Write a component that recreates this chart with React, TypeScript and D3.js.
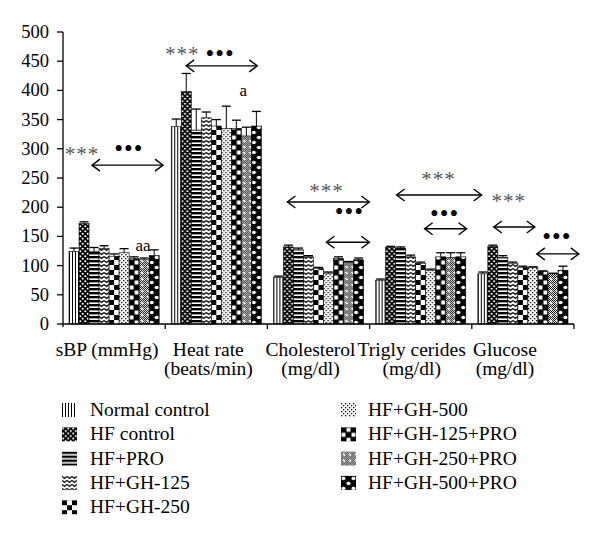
import React from "react";
import * as d3 from "d3";

const categoryLine1 = ["sBP (mmHg)", "Heat rate", "Cholesterol", "Trigly cerides", "Glucose"];
const categoryLine2 = ["", "(beats/min)", "(mg/dl)", "(mg/dl)", "(mg/dl)"];
const seriesNames = [
  "Normal control",
  "HF control",
  "HF+PRO",
  "HF+GH-125",
  "HF+GH-250",
  "HF+GH-500",
  "HF+GH-125+PRO",
  "HF+GH-250+PRO",
  "HF+GH-500+PRO",
];
const normalControl = [124, 338, 80, 75, 86];
const hfControl = [172, 398, 132, 131, 133];
const hfPro = [124, 332, 127, 130, 114];
const hfGh125 = [129, 353, 115, 115, 104];
const hfGh250 = [116, 339, 95, 104, 97];
const hfGh500 = [122, 335, 87, 92, 97];
const hfGh125Pro = [112, 335, 112, 115, 90];
const hfGh250Pro = [110, 322, 105, 114, 86];
const hfGh500Pro = [117, 339, 110, 115, 92];
const seriesValues = [normalControl, hfControl, hfPro, hfGh125, hfGh250, hfGh500, hfGh125Pro, hfGh250Pro, hfGh500Pro];

const normalControlErr = [6, 13, 2, 2, 3];
const hfControlErr = [3, 31, 3, 2, 2];
const hfProErr = [7, 36, 3, 2, 3];
const hfGh125Err = [5, 10, 2, 3, 2];
const hfGh250Err = [4, 11, 2, 2, 2];
const hfGh500Err = [7, 38, 2, 2, 1];
const hfGh125ProErr = [3, 14, 3, 7, 1];
const hfGh250ProErr = [3, 15, 2, 8, 1];
const hfGh500ProErr = [10, 25, 3, 7, 7];
const seriesErrors = [normalControlErr, hfControlErr, hfProErr, hfGh125Err, hfGh250Err, hfGh500Err, hfGh125ProErr, hfGh250ProErr, hfGh500ProErr];

const yTicks = [0, 50, 100, 150, 200, 250, 300, 350, 400, 450, 500];

// significance annotations: group index, offsets within group (px), y in data units
const arrows = [
  { g: 0, x1: 29, x2: 100, v: 272 },
  { g: 1, x1: 21, x2: 92, v: 442 },
  { g: 2, x1: 20, x2: 102, v: 209 },
  { g: 2, x1: 59, x2: 102, v: 140 },
  { g: 3, x1: 27, x2: 112, v: 221 },
  { g: 3, x1: 55, x2: 97, v: 163 },
  { g: 4, x1: 22, x2: 63, v: 166 },
  { g: 4, x1: 65, x2: 107, v: 120 },
];
const starLabels = [
  { g: 0, dx: 19, v: 298 },
  { g: 1, dx: 17, v: 469 },
  { g: 2, dx: 59, v: 235 },
  { g: 3, dx: 69, v: 255 },
  { g: 4, dx: 37, v: 217 },
];
const dotLabels = [
  { g: 0, dx: 66, v: 298 },
  { g: 1, dx: 55, v: 461 },
  { g: 2, dx: 82, v: 190 },
  { g: 3, dx: 75, v: 187 },
  { g: 4, dx: 85, v: 147 },
];
const letterLabels = [
  { g: 0, dx: 80, v: 132, text: "aa" },
  { g: 1, dx: 78, v: 397, text: "a" },
];

const W = 600;
const H = 539;
const FONT = "'Liberation Serif', 'DejaVu Serif', serif";

function Patterns() {
  const checker: JSX.Element[] = [];
  for (let i = 0; i < 6; i++)
    for (let j = 0; j < 6; j++)
      if ((i + j) % 2 === 0) checker.push(<rect key={i + "-" + j} x={i} y={j} width={1} height={1} fill="#000" />);
  return (
    <defs>
      <pattern id="p0" patternUnits="userSpaceOnUse" width={3} height={10}>
        <rect width={3} height={10} fill="#fff" />
        <rect x={0} width={1} height={10} fill="#000" />
      </pattern>
      <pattern id="p1" patternUnits="userSpaceOnUse" width={5} height={5}>
        <rect width={5} height={5} fill="#000" />
        <circle cx={1.25} cy={1.25} r={1.1} fill="#fff" />
        <circle cx={3.75} cy={3.75} r={1.1} fill="#fff" />
      </pattern>
      <pattern id="p2" patternUnits="userSpaceOnUse" width={10} height={4}>
        <rect width={10} height={4} fill="#fff" />
        <rect y={0} width={10} height={2.4} fill="#000" />
      </pattern>
      <pattern id="p3" patternUnits="userSpaceOnUse" width={5} height={4}>
        <rect width={5} height={4} fill="#fff" />
        <path d="M0,0.5 L2.5,2.5 L5,0.5 M0,4.5 L2.5,6.5 L5,4.5" stroke="#000" strokeWidth={1.3} fill="none" />
      </pattern>
      <pattern id="p4" patternUnits="userSpaceOnUse" width={10} height={10}>
        <rect width={10} height={10} fill="#fff" />
        <rect x={0} y={0} width={5} height={5} fill="#000" />
        <rect x={5} y={5} width={5} height={5} fill="#000" />
      </pattern>
      <pattern id="p5" patternUnits="userSpaceOnUse" width={4} height={4}>
        <rect width={4} height={4} fill="#fff" />
        <rect x={0} y={0} width={1.3} height={1.3} fill="#000" />
        <rect x={2} y={2} width={1.3} height={1.3} fill="#000" />
      </pattern>
      <pattern id="p6" patternUnits="userSpaceOnUse" width={10} height={10}>
        <rect width={10} height={10} fill="#000" />
        <rect x={5.5} y={0.5} width={4} height={4} fill="#fff" />
        <rect x={0.5} y={5.5} width={4} height={4} fill="#fff" />
      </pattern>
      <pattern id="p7" patternUnits="userSpaceOnUse" width={6} height={6}>
        <rect width={6} height={6} fill="#fff" />
        {checker}
        <path d="M3,1.5 L4.5,3 L3,4.5 L1.5,3 Z" fill="#fff" />
      </pattern>
      <pattern id="p8" patternUnits="userSpaceOnUse" width={10} height={10}>
        <rect width={10} height={10} fill="#000" />
        <ellipse cx={2.5} cy={2.5} rx={2.1} ry={1.8} fill="#fff" />
        <ellipse cx={7.5} cy={7.5} rx={2.1} ry={1.8} fill="#fff" />
      </pattern>
    </defs>
  );
}

function Arrow({ x1, x2, y }: { x1: number; x2: number; y: number }) {
  const hl = 8;
  const hh = 6;
  return (
    <g stroke="#000" strokeWidth={1.4} fill="none">
      <line x1={x1} y1={y} x2={x2} y2={y} />
      <polyline points={`${x1 + hl},${y - hh} ${x1},${y} ${x1 + hl},${y + hh}`} />
      <polyline points={`${x2 - hl},${y - hh} ${x2},${y} ${x2 - hl},${y + hh}`} />
    </g>
  );
}

export default function App() {
  const x0 = d3.scaleBand<number>().domain(d3.range(categoryLine1.length)).range([63, 574]).padding(0);
  const x1 = d3
    .scaleBand<number>()
    .domain(d3.range(seriesNames.length))
    .range([0, x0.bandwidth()])
    .paddingInner(0)
    .paddingOuter(0.6);
  const y = d3.scaleLinear().domain([0, 500]).range([324, 32]);
  const bw = x1.bandwidth();

  const legendLeft = seriesNames.slice(0, 5);
  const legendRight = seriesNames.slice(5);
  const labelShift = [7, 8, 8, 9, 18];

  return (
    <svg width={W} height={H} style={{ position: "absolute", left: 0, top: 0, background: "#fff" }} fontFamily={FONT}>
      <Patterns />
      <rect width={W} height={H} fill="#fff" />

      {/* bars */}
      {categoryLine1.map((_, gi) =>
        seriesNames.map((_, si) => {
          const v = seriesValues[si][gi];
          const e = seriesErrors[si][gi];
          const bx = (x0(gi) as number) + (x1(si) as number);
          const cx = bw / 2;
          return (
            <g key={gi + "-" + si} transform={`translate(${bx},0)`}>
              <rect x={0} y={y(v)} width={bw} height={y(0) - y(v)} fill={`url(#p${si})`} stroke="#000" strokeWidth={0.6} />
              <line x1={cx} x2={cx} y1={y(v)} y2={y(v + e)} stroke="#000" strokeWidth={1} />
              <line x1={cx - 4.5} x2={cx + 4.5} y1={y(v + e)} y2={y(v + e)} stroke="#000" strokeWidth={1.3} />
            </g>
          );
        })
      )}

      {/* y axis */}
      <line x1={63} x2={63} y1={y(500)} y2={y(0) + 3} stroke="#000" strokeWidth={1.3} />
      {yTicks.map((t) => (
        <g key={t}>
          <line x1={57} x2={63} y1={y(t)} y2={y(t)} stroke="#000" strokeWidth={1.3} />
          <text x={49} y={y(t) + 6} textAnchor="end" fontSize={18.5} fill="#000">
            {t}
          </text>
        </g>
      ))}

      {/* x axis */}
      <line x1={63} x2={574} y1={y(0)} y2={y(0)} stroke="#000" strokeWidth={1.3} />
      {categoryLine1.map((_, gi) => (
        <line
          key={gi}
          x1={(x0(gi) as number) + x0.bandwidth()}
          x2={(x0(gi) as number) + x0.bandwidth()}
          y1={y(0)}
          y2={y(0) + 5}
          stroke="#000"
          strokeWidth={1.3}
        />
      ))}
      {categoryLine1.map((c, gi) => {
        const cx = (x0(gi) as number) + x0.bandwidth() / 2 - labelShift[gi];
        return (
          <g key={c}>
            <text x={cx} y={356} textAnchor="middle" fontSize={19.5} fill="#000">
              {c}
            </text>
            {categoryLine2[gi] && (
              <text x={cx} y={375} textAnchor="middle" fontSize={19.5} fill="#000">
                {categoryLine2[gi]}
              </text>
            )}
          </g>
        );
      })}

      {/* annotations */}
      {arrows.map((a, i) => (
        <Arrow key={i} x1={(x0(a.g) as number) + a.x1} x2={(x0(a.g) as number) + a.x2} y={y(a.v)} />
      ))}
      {starLabels.map((s, i) => (
        <text key={i} x={(x0(s.g) as number) + s.dx} y={y(s.v) + 11} textAnchor="middle" fontSize={21} fill="#555" letterSpacing={1}>
          ***
        </text>
      ))}
      {dotLabels.map((s, i) => (
        <text key={i} x={(x0(s.g) as number) + s.dx} y={y(s.v) + 7} textAnchor="middle" fontSize={25} fill="#000" letterSpacing={1}>
          •••
        </text>
      ))}
      {letterLabels.map((s, i) => (
        <text key={i} x={(x0(s.g) as number) + s.dx} y={y(s.v) + 4} textAnchor="middle" fontSize={17} fill="#000">
          {s.text}
        </text>
      ))}

      {/* legend */}
      {legendLeft.map((n, i) => (
        <g key={n} transform={`translate(62,${403 + i * 24.3})`}>
          <rect x={0} y={0} width={15} height={14} fill={`url(#p${i})`} />
          <text x={28} y={13} fontSize={19.5} fill="#000">
            {n}
          </text>
        </g>
      ))}
      {legendRight.map((n, i) => (
        <g key={n} transform={`translate(341,${403 + i * 24.3})`}>
          <rect x={0} y={0} width={15} height={14} fill={`url(#p${i + 5})`} />
          <text x={27} y={13} fontSize={19.5} fill="#000">
            {n}
          </text>
        </g>
      ))}
    </svg>
  );
}
